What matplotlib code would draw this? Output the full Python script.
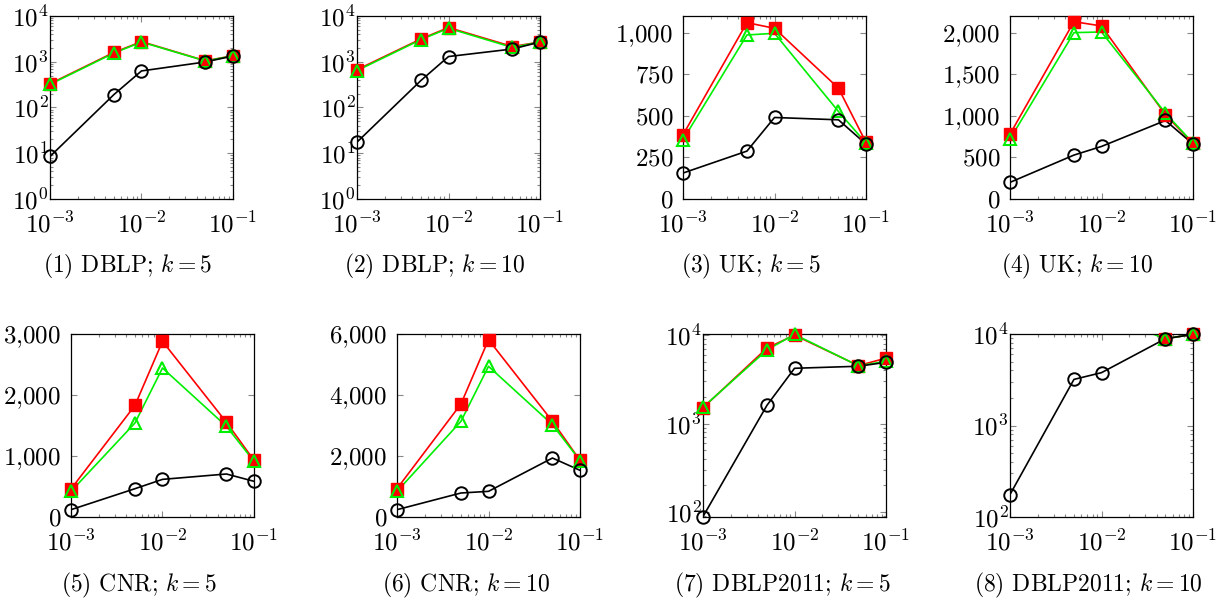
import numpy as np
import matplotlib
matplotlib.use("Agg")
import matplotlib.pyplot as plt
from matplotlib.ticker import FuncFormatter, LogLocator, FixedLocator, NullFormatter

plt.rcParams["mathtext.fontset"] = "cm"
plt.rcParams["font.family"] = ["cmr10", "DejaVu Serif"]
plt.rcParams["axes.unicode_minus"] = False

# sampling rates on the x axis
x = [1e-3, 5e-3, 1e-2, 5e-2, 1e-1]
nan = float("nan")

titles = [
    r"(1) DBLP; $k=5$", r"(2) DBLP; $k=10$", r"(3) UK; $k=5$", r"(4) UK; $k=10$",
    r"(5) CNR; $k=5$", r"(6) CNR; $k=10$", r"(7) DBLP2011; $k=5$", r"(8) DBLP2011; $k=10$",
]

# red squares
method_a = [
    [330, 1600, 2750, 1050, 1350],
    [670, 3150, 5600, 2150, 2700],
    [386, 1060, 1026, 666, 340],
    [780, 2132, 2080, 1012, 670],
    [459, 1830, 2880, 1552, 929],
    [929, 3705, 5814, 3137, 1858],
    [1510, 7150, 10000, 4520, 5500],
    [nan, nan, nan, 8900, 9900],
]
# green triangles
method_b = [
    [320, 1550, 2700, 1040, 1340],
    [640, 3050, 5400, 2050, 2700],
    [356, 986, 996, 526, 336],
    [720, 2000, 2008, 1032, 672],
    [420, 1541, 2443, 1486, 912],
    [841, 3137, 4940, 3027, 1850],
    [1530, 6800, 10200, 4500, 5060],
    [nan, nan, 16000, 8900, 9900],
]
# black circles
method_c = [
    [8.5, 192, 630, 990, 1340],
    [17.5, 390, 1300, 1900, 2700],
    [156, 288, 490, 476, 330],
    [200, 528, 632, 944, 660],
    [120, 464, 617, 705, 585],
    [240, 787, 841, 1934, 1530],
    [89, 1610, 4220, 4450, 4930],
    [176, 3190, 3780, 8890, 9900],
]

y_log = [True, True, False, False, False, False, True, True]
y_lims = [(1, 1e4), (1, 1e4), (0, 1100), (0, 2200), (0, 3000), (0, 6000), (88, 1.03e4), (100, 1e4)]
y_ticks = [None, None, [0, 250, 500, 750, 1000], [0, 500, 1000, 1500, 2000],
           [0, 1000, 2000, 3000], [0, 2000, 4000, 6000], None, None]

# axes boxes in pixels: left, top
W, H = 1225, 601
boxes = [(50, 16), (357, 16), (683, 16), (1010, 16),
         (71, 334), (397, 334), (703, 334), (1010, 334)]
side = 183
title_pos = [(128, 266), (435, 266), (751, 266), (1077, 266),
             (139, 585), (466, 585), (782, 585), (1088, 585)]

fig = plt.figure(figsize=(W / 100, H / 100), dpi=100)

styles = [
    dict(color="#ff0000", marker="s", ms=8.8, mfc="#ff0000", mec="#ff0000", mew=1.0),
    dict(color="#00ee00", marker="^", ms=8.0, mfc="none", mec="#00ee00", mew=1.5),
    dict(color="black", marker="o", ms=9.0, mfc="none", mec="black", mew=1.4),
]

log_fmt = FuncFormatter(lambda v, p: r"$10^{%d}$" % int(round(np.log10(v))))
lin_fmt = FuncFormatter(lambda v, p: r"$%s$" % ("{:,}".format(int(v)).replace(",", "{,}")))

for i in range(8):
    l, t = boxes[i]
    ax = fig.add_axes([l / W, 1 - (t + side) / H, side / W, side / H])
    ax.set_xscale("log")
    if y_log[i]:
        ax.set_yscale("log")
    lo, hi = y_lims[i]
    for data, st in zip([method_a[i], method_b[i], method_c[i]], styles):
        yv = np.array(data, dtype=float)
        ax.plot(x, yv, color=st["color"], lw=1.2, zorder=2)
        keep = (yv >= lo * 0.999) & (yv <= hi * 1.001)
        ax.plot(np.array(x)[keep], yv[keep], ls="none", marker=st["marker"], ms=st["ms"],
                mfc=st["mfc"], mec=st["mec"], mew=st["mew"], clip_on=False, zorder=3)
    ax.set_xlim(1e-3, 1e-1)
    ax.set_ylim(lo, hi)
    ax.xaxis.set_major_locator(FixedLocator([1e-3, 1e-2, 1e-1]))
    ax.xaxis.set_minor_locator(LogLocator(base=10, subs=np.arange(2, 10)))
    ax.xaxis.set_major_formatter(log_fmt)
    ax.xaxis.set_minor_formatter(NullFormatter())
    if y_log[i]:
        ax.yaxis.set_major_locator(LogLocator(base=10, numticks=10))
        ax.yaxis.set_minor_locator(LogLocator(base=10, subs=np.arange(2, 10), numticks=10))
        ax.yaxis.set_major_formatter(log_fmt)
        ax.yaxis.set_minor_formatter(NullFormatter())
        ypad = 1
    else:
        ax.yaxis.set_major_locator(FixedLocator(y_ticks[i]))
        ax.yaxis.set_major_formatter(lin_fmt)
        ypad = 7
    ax.tick_params(which="both", direction="in", top=True, right=True, color="#888888", width=0.8)
    ax.tick_params(which="major", length=4.0, labelsize=18)
    ax.tick_params(which="minor", length=2.2)
    ax.tick_params(axis="x", which="major", pad=9)
    ax.tick_params(axis="y", which="major", pad=ypad)
    for s in ax.spines.values():
        s.set_linewidth(0.9)
        s.set_color("black")
    tx, ty = title_pos[i]
    fig.text(tx / W, 1 - ty / H, titles[i], ha="center", va="center", fontsize=17)

fig.savefig("out.png", dpi=100)
